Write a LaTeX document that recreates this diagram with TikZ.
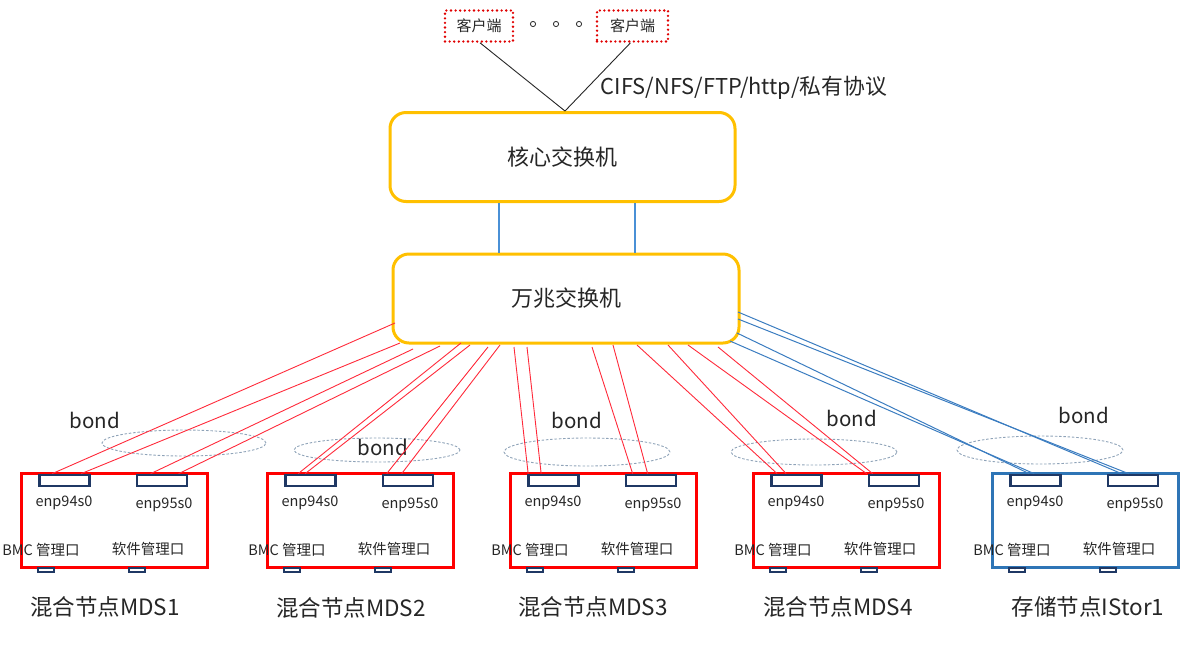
\documentclass[tikz,border=0pt]{standalone}
\usepackage{fontspec}
\setmainfont{Noto Sans CJK SC}
\usetikzlibrary{calc}
\definecolor{swc}{HTML}{FFC000}
\definecolor{nred}{HTML}{FF0000}
\definecolor{nblue}{HTML}{2E75B6}
\definecolor{navy}{HTML}{1F3864}
\definecolor{lnred}{HTML}{FF2A3A}
\definecolor{lnblue}{HTML}{3A7CC0}
\definecolor{lblue}{HTML}{4A90D6}
\definecolor{bondc}{HTML}{8FA3B8}
\definecolor{clientc}{HTML}{E00000}
\definecolor{txt}{HTML}{262626}
\begin{document}
\begin{tikzpicture}[x=1pt,y=-1pt,
  switchbox/.style={draw=swc, line width=3pt, rounded corners=16pt, fill=white,
    minimum width=345pt, minimum height=89pt, inner sep=0pt, text=txt,
    font=\fontsize{22}{26}\selectfont},
  serverbox/.style={draw=#1, line width=3pt, minimum width=186pt, minimum height=94pt, inner sep=0pt},
  portbox/.style={draw=navy, line width=2.7pt, fill=white, minimum width=50pt, minimum height=11pt, inner sep=0pt},
  mgmtport/.style={draw=navy, line width=2pt, fill=white, minimum width=16pt, minimum height=4pt, inner sep=0pt},
  porttext/.style={font=\fontsize{14.5}{17}\selectfont, text=txt, inner sep=0pt},
  mgmttext/.style={font=\fontsize{14.5}{17}\selectfont, text=txt, inner sep=0pt},
  nametext/.style={font=\fontsize{22.5}{26}\selectfont, text=txt, inner sep=0pt},
  bondtext/.style={font=\fontsize{20.5}{24}\selectfont, text=txt, inner sep=0pt},
  clientbox/.style={draw=clientc, line width=2.6pt, line cap=round, dash pattern=on 0pt off 4.6pt,
    minimum height=31pt, inner sep=0pt, text=txt, font=\fontsize{15}{18}\selectfont},
  bondring/.style={draw=bondc, line width=0.9pt, dash pattern=on 2.5pt off 1.8pt},
  redlink/.style={draw=lnred, line width=0.9pt},
  bluelink/.style={draw=lnblue, line width=1pt},
  uplink/.style={draw=lblue, line width=1.1pt},
  clientlink/.style={draw=txt, line width=0.9pt}
]
\useasboundingbox (0,0) rectangle (1200,657);

% bond rings
\draw[bondring] (184,443) ellipse [x radius=82pt, y radius=13pt];
\draw[bondring] (377,450) ellipse [x radius=83pt, y radius=12pt];
\draw[bondring] (587,452) ellipse [x radius=83pt, y radius=14pt];
\draw[bondring] (814,452) ellipse [x radius=83pt, y radius=13pt];
\draw[bondring] (1040,450) ellipse [x radius=83pt, y radius=14pt];

\node[bondtext] (bd1) at (95,420) {bond};
\node[bondtext] (bd2) at (383,447) {bond};
\node[bondtext] (bd3) at (577,420) {bond};
\node[bondtext] (bd4) at (852,418) {bond};
\node[bondtext] (bd5) at (1084,415) {bond};

% clients
\node[clientbox, minimum width=68pt] (c1) at (479,26) {客户端};
\node[clientbox, minimum width=71pt] (c2) at (632.5,26) {客户端};
\draw[txt, line width=0.8pt] (533,24) circle [radius=2.6pt];
\draw[txt, line width=0.8pt] (556,24) circle [radius=2.6pt];
\draw[txt, line width=0.8pt] (579,24) circle [radius=2.6pt];
\node[font=\fontsize{21.8}{26}\selectfont, text=txt, inner sep=0pt] (proto) at (744,88) {CIFS/NFS/FTP/http/私有协议};

% switches
\node[switchbox] (core) at (562.5,157) {核心交换机};
\node[switchbox, minimum width=346pt] (sw) at (566,298.5) {万兆交换机};

\coordinate (apex) at (565,111);
\draw[clientlink] ($(c1.south)+(1,0)$) -- (apex);
\draw[clientlink] ($(c2.south)+(-2,0)$) -- (apex);

\draw[uplink] (core.south -| 499,0) -- (sw.north -| 499,0);
\draw[uplink] (core.south -| 635,0) -- (sw.north -| 635,0);

% servers
\foreach \i/\L/\c in {1/21/nred, 2/267/nred, 3/510/nred, 4/753/nred, 5/992/nblue}{
  \node[serverbox=\c] (n\i) at (\L+93,520) {};
  \node[portbox] (p\i-1) at (\L+43.5,480.5) {};
  \node[portbox] (p\i-2) at (\L+141,480.5) {};
  \node[porttext] (e\i-1) at (\L+43,503) {enp94s0};
  \node[porttext] (e\i-2) at (\L+143,505) {enp95s0};
  \node[mgmttext] (m\i-1) at (\L+20,550) {BMC 管理口};
  \node[mgmttext] (m\i-2) at (\L+127,549) {软件管理口};
  \node[mgmtport] (q\i-1) at (\L+24.5,570) {};
  \node[mgmtport] (q\i-2) at (\L+116,570) {};
}
\node[nametext] (t1) at (105,607) {混合节点MDS1};
\node[nametext] (t2) at (351,608) {混合节点MDS2};
\node[nametext] (t3) at (593,607) {混合节点MDS3};
\node[nametext] (t4) at (838,607) {混合节点MDS4};
\node[nametext] (t5) at (1088,607) {存储节点IStor1};

% link start points on the 10G switch
\coordinate (s1a) at (395,323);
\coordinate (s1b) at (400,343);
\coordinate (s1c) at (413,349);
\coordinate (s1d) at (440,346);
\coordinate (s2a) at (461,343);
\coordinate (s2b) at (470,345);
\coordinate (s2c) at (488,347);
\coordinate (s2d) at (500,345);
\coordinate (s3a) at (514,347);
\coordinate (s3b) at (527,347);
\coordinate (s3c) at (592,347);
\coordinate (s3d) at (613,345);
\coordinate (s4a) at (637,345);
\coordinate (s4b) at (668,345);
\coordinate (s4c) at (688,345);
\coordinate (s4d) at (718,347);
\coordinate (s5a) at (738,312);
\coordinate (s5b) at (738,319);
\coordinate (s5c) at (737,333);
\coordinate (s5d) at (730,341);

% links
\draw[redlink] (s1a) -- ($(p1-1.north west)+(14,0)$);
\draw[redlink] (s1b) -- ($(p1-1.north west)+(43,0)$);
\draw[redlink] (s1c) -- ($(p1-2.north west)+(15,0)$);
\draw[redlink] (s1d) -- ($(p1-2.north west)+(43,0)$);
\draw[redlink] (s2a) -- ($(p2-1.north west)+(14,0)$);
\draw[redlink] (s2b) -- ($(p2-1.north west)+(21,0)$);
\draw[redlink] (s2c) -- ($(p2-2.north west)+(5,0)$);
\draw[redlink] (s2d) -- ($(p2-2.north west)+(20,0)$);
\draw[redlink] (s3a) -- ($(p3-1.north west)+(1,0)$);
\draw[redlink] (s3b) -- ($(p3-1.north west)+(14,0)$);
\draw[redlink] (s3c) -- ($(p3-2.north west)+(8,0)$);
\draw[redlink] (s3d) -- ($(p3-2.north west)+(23,0)$);
\draw[redlink] (s4a) -- ($(p4-1.north west)+(7,0)$);
\draw[redlink] (s4b) -- ($(p4-1.north west)+(16,0)$);
\draw[redlink] (s4c) -- ($(p4-2.north west)+(-1,0)$);
\draw[redlink] (s4d) -- ($(p4-2.north west)+(5,0)$);
\draw[bluelink] (s5a) -- ($(p5-2.north west)+(15,0)$);
\draw[bluelink] (s5b) -- ($(p5-2.north west)+(22,0)$);
\draw[bluelink] (s5c) -- ($(p5-1.north west)+(20,0)$);
\draw[bluelink] (s5d) -- ($(p5-1.north west)+(25,0)$);
\end{tikzpicture}
\end{document}
